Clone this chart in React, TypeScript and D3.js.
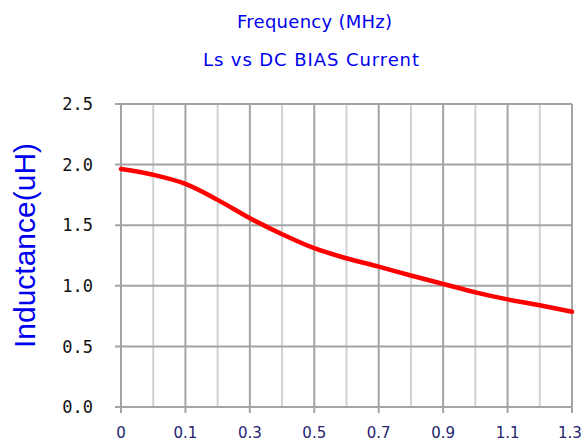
import * as React from 'react'
import * as d3 from 'd3'

// minor grid positions (two per labelled division)
const steps = [0, 1, 2, 3, 4, 5, 6, 7, 8, 9, 10, 11, 12, 13, 14]
const inductance = [1.963, 1.916, 1.841, 1.709, 1.558, 1.426, 1.31, 1.227, 1.158, 1.085, 1.015, 0.946, 0.888, 0.839, 0.786]
const xTickLabels = ['0', '0.1', '0.3', '0.5', '0.7', '0.9', '1.1', '1.3']
const yTicks = [0, 0.5, 1.0, 1.5, 2.0, 2.5]

export default function App() {
    const W = 584
    const H = 441
    const LEFT = 121
    const RIGHT = 572
    const TOP = 104
    const BOTTOM = 407

    const x = d3.scaleLinear().domain([0, 14]).range([LEFT, RIGHT])
    const y = d3.scaleLinear().domain([0, 2.5]).range([BOTTOM, TOP])

    const line = d3.line<number>()
        .x((_, i) => x(steps[i]))
        .y(d => y(d))
        .curve(d3.curveMonotoneX)

    const blue = '#0000ee'

    return <svg width={W} height={H} style={{ position: 'absolute', left: 0, top: 0, background: '#fff' }}>
        <text x={314.5} y={28} textAnchor="middle" fill={blue} fontFamily="DejaVu Sans" fontSize={18}
            textLength={155} lengthAdjust="spacing">Frequency (MHz)</text>
        <text x={311} y={66} textAnchor="middle" fill={blue} fontFamily="DejaVu Sans" fontSize={18}
            textLength={216} lengthAdjust="spacing">Ls vs DC BIAS Current</text>

        <text transform={`translate(35 ${(TOP + BOTTOM) / 2 - 10}) rotate(-90)`} textAnchor="middle" fill={blue}
            fontFamily="Liberation Sans" fontSize={30}>Inductance(uH)</text>

        {/* vertical grid */}
        {steps.map(s => {
            const major = s % 2 === 0
            return <line key={'v' + s} x1={x(s)} x2={x(s)} y1={TOP} y2={major ? BOTTOM + 6 : BOTTOM}
                stroke={major ? '#a4a4a4' : '#d2d2d2'} strokeWidth={2} />
        })}
        {/* horizontal grid */}
        {yTicks.map(t =>
            <line key={'h' + t} x1={LEFT - 6} x2={RIGHT} y1={y(t)} y2={y(t)} stroke="#a4a4a4" strokeWidth={2} />
        )}

        {yTicks.map(t =>
            <text key={'yl' + t} x={93} y={y(t)} dy="0.36em" textAnchor="end" fill="#111"
                fontFamily="DejaVu Sans Mono" fontSize={17}>{t.toFixed(1)}</text>
        )}
        {xTickLabels.map((l, i) =>
            <text key={'xl' + l} x={Math.min(x(i * 2), 570)} y={438} textAnchor="middle" fill="#24246e"
                fontFamily="DejaVu Sans" fontSize={15}>{l}</text>
        )}

        <path d={line(inductance) || ''} fill="none" stroke="#ff0000" strokeWidth={4.5} strokeLinecap="round" />
    </svg>
}
